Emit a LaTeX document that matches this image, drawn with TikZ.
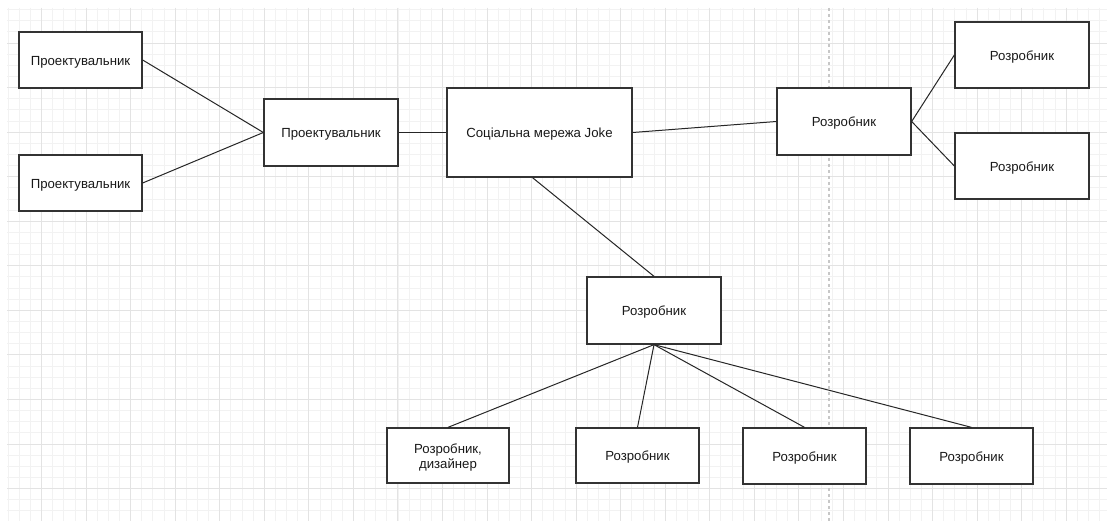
\documentclass[tikz,border=0pt]{standalone}
\usepackage{fontspec}
\setmainfont{Liberation Sans}
\begin{document}
\begin{tikzpicture}[x=1pt,y=-1pt,
  box/.style={draw=black!80, line width=1.3pt, fill=white, rectangle, inner sep=0pt,
              align=center, font=\fontsize{13.2}{15.5}\selectfont, text=black!90,
              text height=12pt, text depth=1.4pt},
  link/.style={draw=black!85, line width=1pt},
  minorgrid/.style={draw=black!5, line width=0.8pt},
  majorgrid/.style={draw=black!11, line width=0.9pt},
  pagebreak/.style={draw=black!22, line width=1.2pt, dash pattern=on 3pt off 3pt}]
  \useasboundingbox (0,0) rectangle (1107,521);
  \fill[white] (0,0) rectangle (1107,521);

  % background grid: minor cells of 11.14, major every fourth line
  \foreach \i in {1,...,99} {
    \pgfmathsetmacro\gx{-3.05+11.1375*\i}
    \pgfmathsetmacro\gy{-1.55+11.1375*\i}
    \ifdim\gx pt>7pt \ifdim\gx pt<1107pt
      \draw[minorgrid] (\gx,8) -- (\gx,521);
    \fi\fi
    \ifdim\gy pt>8pt \ifdim\gy pt<521pt
      \draw[minorgrid] (7,\gy) -- (1107,\gy);
    \fi\fi
  }
  \foreach \i in {1,...,25} {
    \pgfmathsetmacro\gx{-3.05+44.55*\i}
    \pgfmathsetmacro\gy{-1.55+44.55*\i}
    \ifdim\gx pt<1107pt
      \draw[majorgrid] (\gx,8) -- (\gx,521);
    \fi
    \ifdim\gy pt<521pt
      \draw[majorgrid] (7,\gy) -- (1107,\gy);
    \fi
  }
  % page break marker
  \draw[pagebreak] (829,8) -- (829,521);

  % boxes
  \node[box, minimum width=123, minimum height=56] (a) at (80.5,60) {Проектувальник};
  \node[box, minimum width=123, minimum height=56] (b) at (80.5,183) {Проектувальник};
  \node[box, minimum width=134, minimum height=67] (c) at (331,132.5) {Проектувальник};
  \node[box, minimum width=185, minimum height=89] (d) at (539.5,132.5) {Соціальна мережа Joke};
  \node[box, minimum width=134, minimum height=67] (e) at (844,121.5) {Розробник};
  \node[box, minimum width=134, minimum height=66] (f) at (1022,55) {Розробник};
  \node[box, minimum width=134, minimum height=66] (g) at (1022,166) {Розробник};
  \node[box, minimum width=134, minimum height=67] (h) at (654,310.5) {Розробник};
  \node[box, minimum width=122, minimum height=55, text height=, text depth=] (i) at (448,455.5)
    {\raisebox{0pt}[\dimexpr\height+5pt\relax][\depth]{\begin{tabular}{@{}c@{}}Розробник,\\[-0.5pt]дизайнер\end{tabular}}};
  \node[box, minimum width=123, minimum height=55] (j) at (637.5,455.5) {Розробник};
  \node[box, minimum width=123, minimum height=56] (k) at (804.5,456) {Розробник};
  \node[box, minimum width=123, minimum height=56] (l) at (971.5,456) {Розробник};

  % connectors
  \draw[link] (a.east) -- (c.west);
  \draw[link] (b.east) -- (c.west);
  \draw[link] (c.east) -- (d.west);
  \draw[link] (d.east) -- (e.west);
  \draw[link] ([xshift=-7pt]d.south) -- (h.north);
  \draw[link] (e.east) -- (f.west);
  \draw[link] (e.east) -- (g.west);
  \draw[link] (h.south) -- (i.north);
  \draw[link] (h.south) -- (j.north);
  \draw[link] (h.south) -- (k.north);
  \draw[link] (h.south) -- (l.north);
\end{tikzpicture}
\end{document}
